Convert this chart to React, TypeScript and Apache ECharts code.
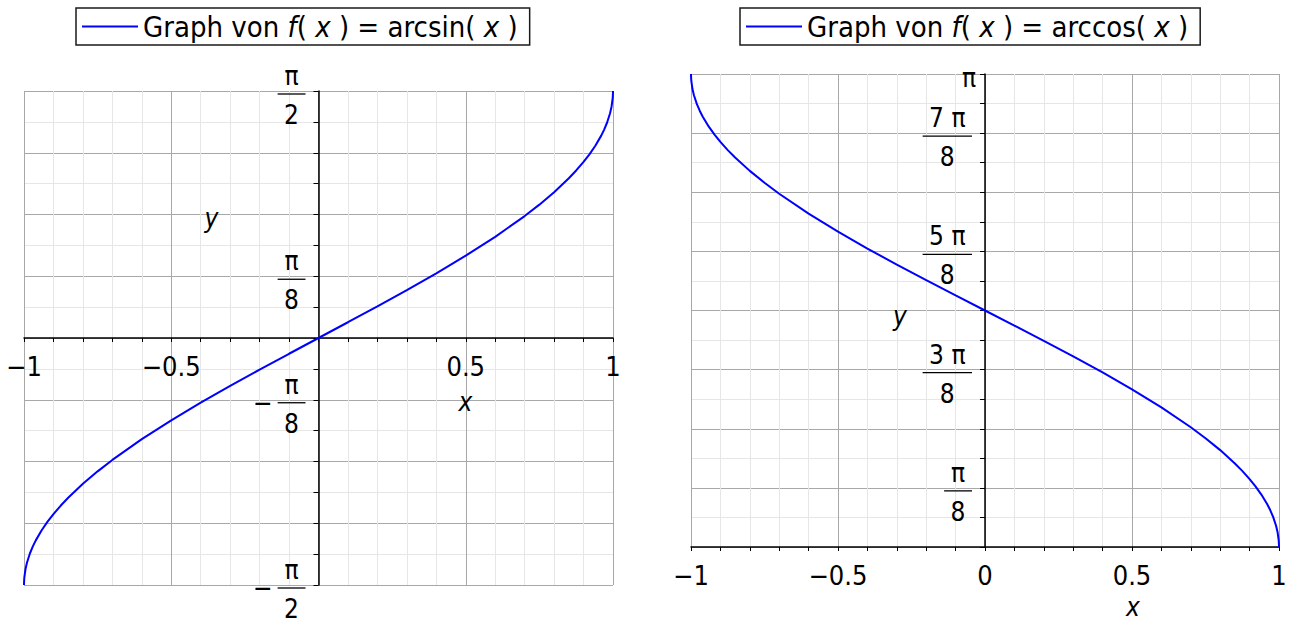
import React, { useEffect, useRef } from "react";
import * as echarts from "echarts";

const FONT = "'DejaVu Sans Condensed', 'DejaVu Sans'";
const BLUE = "#0000ff";

// sampled x positions (denser near the ends, where the curves are steep)
const xValues = [
  -1, -0.9999, -0.999, -0.995, -0.99, -0.98, -0.97, -0.96, -0.94, -0.92, -0.9,
  -0.875, -0.85, -0.8, -0.75, -0.7, -0.6, -0.5, -0.4, -0.3, -0.2, -0.1, 0,
  0.1, 0.2, 0.3, 0.4, 0.5, 0.6, 0.7, 0.75, 0.8, 0.85, 0.875, 0.9, 0.92, 0.94,
  0.96, 0.97, 0.98, 0.99, 0.995, 0.999, 0.9999, 1,
];

const arcsinValues = [
  -1.5708, -1.5567, -1.5261, -1.4706, -1.4293, -1.3705, -1.3252, -1.287, -1.2226,
  -1.1681, -1.1198, -1.0654, -1.016, -0.9273, -0.8481, -0.7754, -0.6435, -0.5236,
  -0.4115, -0.3047, -0.2014, -0.1002, 0, 0.1002, 0.2014, 0.3047, 0.4115, 0.5236,
  0.6435, 0.7754, 0.8481, 0.9273, 1.016, 1.0654, 1.1198, 1.1681, 1.2226, 1.287,
  1.3252, 1.3705, 1.4293, 1.4706, 1.5261, 1.5567, 1.5708,
];

const arccosValues = [
  3.1416, 3.1275, 3.0969, 3.0414, 3.0001, 2.9413, 2.896, 2.8578, 2.7934, 2.7389,
  2.6906, 2.6362, 2.5868, 2.4981, 2.4189, 2.3462, 2.2143, 2.0944, 1.9823, 1.8755,
  1.7722, 1.671, 1.5708, 1.4706, 1.3694, 1.2661, 1.1593, 1.0472, 0.9273, 0.7954,
  0.7227, 0.6435, 0.5548, 0.5054, 0.451, 0.4027, 0.3482, 0.2838, 0.2456, 0.2003,
  0.1415, 0.1002, 0.0447, 0.0141, 0,
];

// x tick labels of the left plot (drawn at the axis through y = 0)
const leftXTickLabels = [-1, -0.5, 0.5, 1];

// y tick labels, in multiples of pi/8
const leftYLabels = [
  { k: 4, neg: false, num: "π", den: "2" },
  { k: 1, neg: false, num: "π", den: "8" },
  { k: -1, neg: true, num: "π", den: "8" },
  { k: -4, neg: true, num: "π", den: "2" },
];
const rightYLabels = [
  { k: 8, neg: false, num: "π", den: "" },
  { k: 7, neg: false, num: "7 π", den: "8" },
  { k: 5, neg: false, num: "5 π", den: "8" },
  { k: 3, neg: false, num: "3 π", den: "8" },
  { k: 1, neg: false, num: "π", den: "8" },
];

const legendNames = ["arcsin", "arccos"];

const FS = 26; // fraction labels, axis names
const FS_TICK = 27; // x tick labels
const FS_LEGEND = 29;

function measure(text: string): number {
  const c = document.createElement("canvas").getContext("2d");
  if (!c) return text.length * 14;
  c.font = `${FS}px ${FONT}`;
  return c.measureText(text).width;
}

function fmtNum(v: number): string {
  if (Math.abs(v) < 1e-9) return "0";
  return (v < 0 ? "−" : "") + String(Math.abs(v));
}

function txt(text: string, x: number, y: number, align: string, italic = false, size = FS) {
  return {
    type: "text",
    x,
    y,
    silent: true,
    style: {
      text,
      fill: "#000",
      fontSize: size,
      fontFamily: FONT,
      fontStyle: italic ? "italic" : "normal",
      align,
      verticalAlign: "middle",
      textAlign: align,
      textVerticalAlign: "middle",
    },
  };
}

function xAxisOf(gridIndex: number, showLabels: boolean) {
  return {
    type: "value",
    gridIndex,
    min: -1,
    max: 1,
    interval: 0.5,
    axisLine: { onZero: true, lineStyle: { color: "#000", width: 1.5 } },
    axisTick: { show: true, length: 4, lineStyle: { color: "#000", width: 1 } },
    minorTick: { show: true, splitNumber: 5, length: 4, lineStyle: { color: "#000", width: 1 } },
    splitLine: { show: true, lineStyle: { color: "#a8a8a8", width: 1 } },
    minorSplitLine: { show: true, lineStyle: { color: "#e6e6e6", width: 1 } },
    axisLabel: {
      show: showLabels,
      margin: 15,
      fontFamily: FONT,
      fontSize: FS_TICK,
      color: "#000",
      showMinLabel: true,
      showMaxLabel: true,
      formatter: (v: number) => fmtNum(v),
    },
  };
}

function yAxisOf(gridIndex: number, min: number, max: number) {
  return {
    type: "value",
    gridIndex,
    min,
    max,
    interval: Math.PI / 8,
    axisLine: { onZero: true, lineStyle: { color: "#000", width: 1.5 } },
    axisTick: { show: true, length: 5, lineStyle: { color: "#000", width: 1 } },
    minorTick: { show: true, splitNumber: 2, length: 5, lineStyle: { color: "#000", width: 1 } },
    splitLine: { show: true, lineStyle: { color: "#a8a8a8", width: 1 } },
    minorSplitLine: { show: true, lineStyle: { color: "#e6e6e6", width: 1 } },
    axisLabel: { show: false },
  };
}

const legendCommon = {
  orient: "horizontal",
  icon: "rect",
  itemWidth: 56,
  itemHeight: 2,
  borderColor: "#1a1a1a",
  borderWidth: 1.5,
  padding: [4, 12, 4, 6],
  selectedMode: false,
  textStyle: {
    fontFamily: FONT,
    fontSize: FS_LEGEND,
    color: "#000",
    rich: { i: { fontStyle: "italic", fontFamily: FONT, fontSize: FS_LEGEND, color: "#000" } },
  },
};

export default function App() {
  const ref = useRef<HTMLDivElement>(null);

  useEffect(() => {
    if (!ref.current) return;
    const chart = echarts.init(ref.current, undefined, { renderer: "svg" });

    const option: any = {
      animation: false,
      backgroundColor: "#fff",
      legend: [
        {
          ...legendCommon,
          data: [legendNames[0]],
          left: 76,
          top: 8,
          formatter: () => "Graph von {i|f}( {i|x} ) = arcsin( {i|x} )",
        },
        {
          ...legendCommon,
          data: [legendNames[1]],
          left: 740,
          top: 8,
          formatter: () => "Graph von {i|f}( {i|x} ) = arccos( {i|x} )",
        },
      ],
      grid: [
        { left: 24, top: 91, width: 589, height: 494, containLabel: false },
        { left: 691, top: 74, width: 588, height: 473, containLabel: false },
      ],
      xAxis: [xAxisOf(0, false), xAxisOf(1, true)],
      yAxis: [yAxisOf(0, -Math.PI / 2, Math.PI / 2), yAxisOf(1, 0, Math.PI)],
      series: [
        {
          type: "line",
          name: legendNames[0],
          xAxisIndex: 0,
          yAxisIndex: 0,
          data: xValues.map((x, i) => [x, arcsinValues[i]]),
          symbol: "none",
          showSymbol: false,
          clip: false,
          lineStyle: { color: BLUE, width: 2 },
          itemStyle: { color: BLUE },
        },
        {
          type: "line",
          name: legendNames[1],
          xAxisIndex: 1,
          yAxisIndex: 1,
          data: xValues.map((x, i) => [x, arccosValues[i]]),
          symbol: "none",
          showSymbol: false,
          clip: false,
          lineStyle: { color: BLUE, width: 2 },
          itemStyle: { color: BLUE },
        },
      ],
    };
    chart.setOption(option);

    const graphics: any[] = [];

    // left plot x labels next to the axis through y = 0
    leftXTickLabels.forEach((v) => {
      const p = chart.convertToPixel({ gridIndex: 0 } as any, [v, 0]) as number[];
      graphics.push(txt(fmtNum(v), p[0], p[1] + 28, "center", false, FS_TICK));
    });

    const addFractions = (gridIndex: number, labels: typeof leftYLabels) => {
      labels.forEach((l) => {
        const p = chart.convertToPixel({ gridIndex } as any, [0, (l.k * Math.PI) / 8]) as number[];
        const axX = p[0];
        const tickY = p[1];
        const right = axX - 13;
        if (!l.den) {
          graphics.push(txt(l.num, axX - 9, tickY + 4, "right"));
          return;
        }
        const w = Math.max(measure(l.num), measure(l.den)) + 13;
        const left = right - w;
        const cx = (left + right) / 2;
        const barY = tickY + 3;
        graphics.push({
          type: "line",
          silent: true,
          shape: { x1: left, y1: barY, x2: right, y2: barY },
          style: { stroke: "#000", lineWidth: 1.3 },
        });
        graphics.push(txt(l.num, cx, barY - 18, "center"));
        graphics.push(txt(l.den, cx, barY + 21, "center"));
        if (l.neg) graphics.push(txt("−", left - 5, barY, "right"));
      });
    };
    addFractions(0, leftYLabels);
    addFractions(1, rightYLabels);

    // axis names
    const o0 = chart.convertToPixel({ gridIndex: 0 } as any, [0, 0]) as number[];
    const o1 = chart.convertToPixel({ gridIndex: 1 } as any, [0, 0]) as number[];
    graphics.push(txt("y", o0[0] - 107, o0[1] - 120, "center", true));
    graphics.push(txt("x", o0[0] + 147, o0[1] + 64, "center", true));
    graphics.push(txt("y", o1[0] - 85, o1[1] - 231, "center", true));
    graphics.push(txt("x", o1[0] + 148, o1[1] + 60, "center", true));

    chart.setOption({ graphic: graphics });

    return () => chart.dispose();
  }, []);

  return (
    <div
      ref={ref}
      style={{ position: "fixed", left: 0, top: 0, width: 1295, height: 623, background: "#fff" }}
    />
  );
}
